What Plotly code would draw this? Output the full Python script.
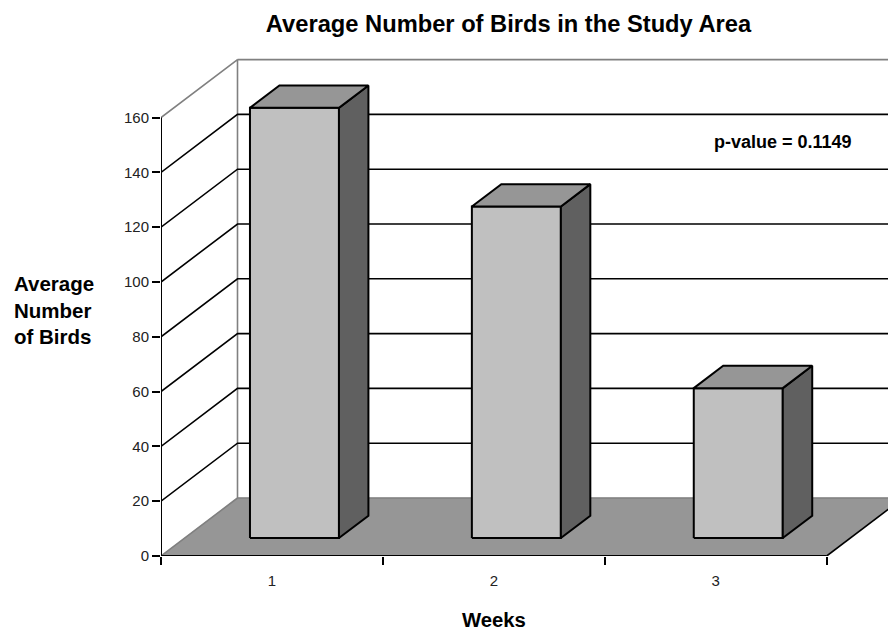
import plotly.graph_objects as go

# --- data ---
weeks = ["1", "2", "3"]
birds = [157, 121, 54.7]
value_ticks = [0, 20, 40, 60, 80, 100, 120, 140, 160]
title_text = "Average Number of Birds in the Study Area"
y_title = "Average<br>Number<br>of Birds"
x_title = "Weeks"
note = "p-value = 0.1149"

# --- oblique-projection style (axis units) ---
PX_X = 221.9          # pixels per category
PX_Y = 2.74           # pixels per value unit
DEPTH_X = 76.5 / PX_X
DEPTH_Y = 58 / PX_Y
FRONT, BACK = 0.31, 0.695
BAR_W = 89 / PX_X
BAR_SHIFT = -1.2 / PX_X
MAX_V = value_ticks[-1]
N = len(weeks)
LEFT, BOTTOM = 161, 74
TICK_COLOR = "#222222"


def proj(x, v, d):
    return x + d * DEPTH_X, v + d * DEPTH_Y


def poly(points, fill=None, color="black", width=2, clip=True):
    xs, ys = zip(*[proj(*p) for p in points])
    return go.Scatter(
        x=list(xs), y=list(ys), mode="lines",
        fill="toself" if fill else "none",
        fillcolor=fill,
        line=dict(color=color, width=width),
        hoverinfo="skip", showlegend=False, cliponaxis=clip,
    )


fig = go.Figure()
x_end = (888 - LEFT) / PX_X

# floor
fig.add_trace(poly([(0, 0, 0), (N, 0, 0), (N, 0, 1), (0, 0, 1), (0, 0, 0)],
                   fill="#969696", color="#969696", width=0.5))
fig.add_trace(poly([(N, 0, 0), (N, 0, 1)], width=1.6))
fig.add_trace(poly([(0, 0, 1), (x_end, 0, 1)], color="#808080", width=1.6))
# grey wall edges
fig.add_trace(poly([(0, 0, 0), (0, 0, 1), (0, MAX_V, 1), (0, MAX_V, 0)],
                   color="#808080", width=1.6, clip=False))
fig.add_trace(poly([(0, MAX_V, 1), (x_end, MAX_V, 1)], color="#808080", width=1.6))

# gridlines
for v in value_ticks[1:-1]:
    fig.add_trace(poly([(0, v, 0), (0, v, 1), (x_end, v, 1)], width=1.6, clip=False))

# bars
for i, val in enumerate(birds):
    x0 = i + 0.5 - BAR_W / 2 + BAR_SHIFT
    x1 = i + 0.5 + BAR_W / 2 + BAR_SHIFT
    fig.add_trace(poly([(x0, 0, FRONT), (x1, 0, FRONT), (x1, val, FRONT), (x0, val, FRONT), (x0, 0, FRONT)],
                       fill="#c0c0c0"))
    fig.add_trace(poly([(x1, 0, FRONT), (x1, 0, BACK), (x1, val, BACK), (x1, val, FRONT), (x1, 0, FRONT)],
                       fill="#606060"))
    fig.add_trace(poly([(x0, val, FRONT), (x1, val, FRONT), (x1, val, BACK), (x0, val, BACK), (x0, val, FRONT)],
                       fill="#969696"))

# axis lines
fig.add_trace(poly([(0, MAX_V, 0), (0, 0, 0), (N, 0, 0)], width=2, clip=False))

fig.update_layout(
    width=888, height=630, autosize=False,
    margin=dict(l=LEFT, r=0, t=0, b=BOTTOM, pad=0),
    paper_bgcolor="white", plot_bgcolor="white",
    font=dict(family="Liberation Sans, Arial, sans-serif", color=TICK_COLOR, size=15),
    showlegend=False,
    title=dict(text="<b>%s</b>" % title_text, x=508.5 / 888, xanchor="center",
               y=1 - 24 / 630, yanchor="middle",
               font=dict(size=23.7, color="black")),
    xaxis=dict(range=[0, x_end], showgrid=False, zeroline=False, showline=False,
               tickmode="array", tickvals=[i + 0.5 for i in range(N)], ticktext=weeks,
               ticks="outside", ticklen=11, tickcolor="rgba(0,0,0,0)",
               tickfont=dict(size=15, color=TICK_COLOR),
               minor=dict(tickmode="array", tickvals=list(range(N + 1)), ticks="outside",
                          ticklen=8, tickwidth=1.6, tickcolor="black", showgrid=False)),
    yaxis=dict(range=[0, (630 - BOTTOM) / PX_Y], showgrid=False, zeroline=False, showline=False,
               tickmode="array", tickvals=value_ticks, ticks="outside", ticklen=8,
               tickwidth=1.6, tickcolor="black", tickfont=dict(size=15, color=TICK_COLOR)),
    annotations=[
        dict(text="<b>%s</b>" % note, xref="paper", yref="paper", x=(783 - LEFT) / (888 - LEFT),
             y=(556 - 142) / 556, showarrow=False, xanchor="center", yanchor="middle",
             font=dict(size=18, color="black")),
        dict(text="<b>%s</b>" % y_title, xref="paper", yref="paper", x=(12 - LEFT) / (888 - LEFT),
             y=(556 - 310) / 556, showarrow=False, xanchor="left", yanchor="middle", align="left",
             font=dict(size=20.5, color="black")),
        dict(text="<b>%s</b>" % x_title, xref="paper", yref="paper", x=(494 - LEFT) / (888 - LEFT),
             y=(556 - 620) / 556, showarrow=False, xanchor="center", yanchor="middle",
             font=dict(size=20.3, color="black")),
    ],
)

fig.write_html("out.html", post_script="document.body.style.margin='0';",
               config={"displayModeBar": False})
